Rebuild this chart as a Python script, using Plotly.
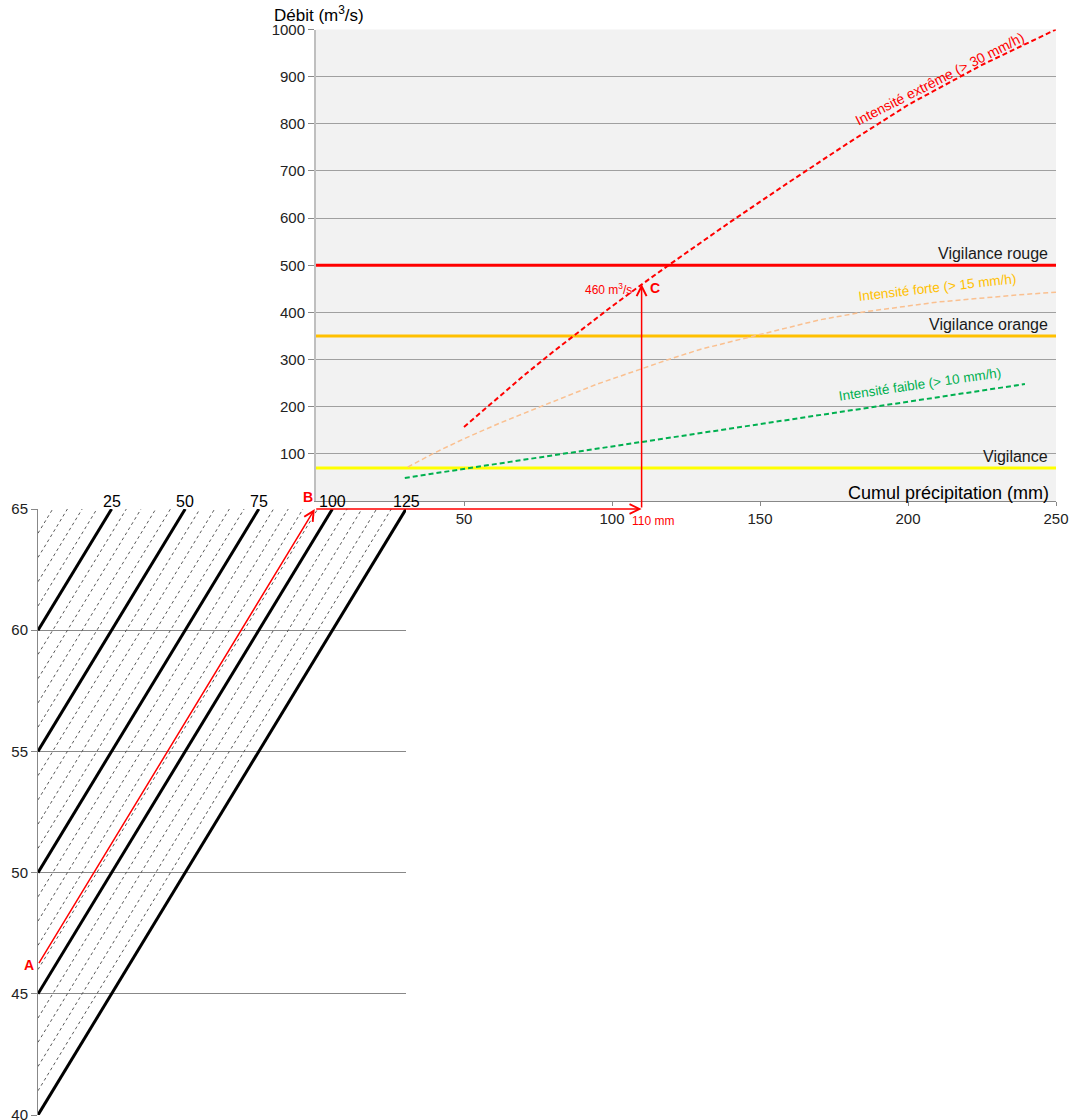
import plotly.graph_objects as go

W, H = 1075, 1120
FONT = "Liberation Sans, Arial, sans-serif"

# --- top chart: debit vs cumul precipitation ---
seuils = [500, 350, 70]
seuil_noms = ["Vigilance rouge", "Vigilance orange", "Vigilance"]
seuil_couleurs = ["#ff0000", "#ffc000", "#ffff00"]

extreme_x = [50, 60, 70, 80, 90, 100, 110, 120, 140, 160, 180, 200, 225, 250]
extreme_y = [157, 212, 265, 316, 365, 413, 459, 504, 592, 677, 760, 840, 925, 1000]
forte_x = [31, 40, 50, 62, 75, 95, 120, 130, 148, 170, 185, 210, 237, 250]
forte_y = [72, 102, 132, 165, 198, 248, 302, 322, 350, 384, 401, 422, 437, 443]
faible_x = [30, 65.5, 239.5]
faible_y = [49, 83, 248]

x_ticks_top = [50, 100, 150, 200, 250]
y_ticks_top = [100, 200, 300, 400, 500, 600, 700, 800, 900, 1000]

# --- bottom chart: nomogram ---
gras_depart = [60, 55, 50, 45, 40]
gras_arrivee = [25, 50, 75, 100, 125]
fin_depart = [64, 63, 62, 61, 59, 58, 57, 56, 54, 53, 52, 51,
              49, 48, 47, 46, 44, 43, 42, 41]
fin_arrivee = [5, 10, 15, 20, 30, 35, 40, 45, 55, 60, 65, 70,
               80, 85, 90, 95, 105, 110, 115, 120]
y_ticks_bas = [40, 45, 50, 55, 60, 65]

# example path A -> B -> C
A_y, B_x = 46.2, 94
cumul_lu, debit_lu = 110, 460

# domains (paper)
tx = [316 / W, 1056 / W]
ty = [1 - 501 / H, 1 - 29.5 / H]
bx = [38 / W, 406 / W]
by = [1 - 1115 / H, 1 - 509 / H]

fig = go.Figure()

# top chart background
fig.add_shape(type="rect", xref="x domain", yref="y domain", x0=0, x1=1, y0=0, y1=1,
              fillcolor="#f2f2f2", line=dict(width=0), layer="below")

for v, c in zip(seuils, seuil_couleurs):
    fig.add_trace(go.Scatter(x=[0, 250], y=[v, v], mode="lines",
                             line=dict(color=c, width=3), xaxis="x", yaxis="y"))

fig.add_trace(go.Scatter(x=forte_x, y=forte_y, mode="lines",
                         line=dict(color="#fac090", width=1.5, dash="5px,3px"), xaxis="x", yaxis="y"))
fig.add_trace(go.Scatter(x=faible_x, y=faible_y, mode="lines",
                         line=dict(color="#00b050", width=2, dash="5px,3px"), xaxis="x", yaxis="y"))
fig.add_trace(go.Scatter(x=extreme_x, y=extreme_y, mode="lines",
                         line=dict(color="#ff0000", width=2, dash="5px,3px"), xaxis="x", yaxis="y"))

# nomogram lines
for d, a in zip(fin_depart, fin_arrivee):
    fig.add_trace(go.Scatter(x=[0, a], y=[d, 65], mode="lines",
                             line=dict(color="#5a5a5a", width=1, dash="3px,3px"),
                             xaxis="x2", yaxis="y2"))
for d, a in zip(gras_depart, gras_arrivee):
    fig.add_trace(go.Scatter(x=[0, a], y=[d, 65], mode="lines",
                             line=dict(color="#000000", width=3), xaxis="x2", yaxis="y2"))

ann = []
for a in gras_arrivee:
    ann.append(dict(x=a, y=65, xref="x2", yref="y2", text=str(a), showarrow=False,
                    yanchor="bottom", yshift=-3, font=dict(size=16, color="#000")))

for v, n in zip(seuils, seuil_noms):
    ann.append(dict(x=248, y=v, xref="x", yref="y", text=n, showarrow=False,
                    xanchor="right", yanchor="bottom", yshift=1,
                    font=dict(size=16, color="#1a1a1a")))

ann.append(dict(x=210.5, y=896, xref="x", yref="y", text="Intensité extrême (> 30 mm/h)",
                showarrow=False, textangle=-27, font=dict(size=14, color="#ff0000")))
ann.append(dict(x=210, y=452, xref="x", yref="y", text="Intensité forte (> 15 mm/h)",
                showarrow=False, textangle=-6.5, font=dict(size=13.5, color="#ffc000")))
ann.append(dict(x=204, y=247, xref="x", yref="y", text="Intensité faible (> 10 mm/h)",
                showarrow=False, textangle=-8.3, font=dict(size=13.5, color="#00b050")))

ann.append(dict(x=1 - 24 / W, y=1 - 493 / H, xref="paper", yref="paper",
                text="Cumul précipitation (mm)", showarrow=False, xanchor="right",
                yanchor="middle", font=dict(size=18, color="#000")))
ann.append(dict(x=272 / W, y=1 - 14 / H, xref="paper", yref="paper",
                text="Débit (m<sup>3</sup>/s)", showarrow=False, xanchor="left",
                yanchor="middle", font=dict(size=17, color="#000")))

# arrows A -> B -> C
red = "#ff0000"
ann.append(dict(x=B_x, y=65, xref="x2", yref="y2", ax=0, ay=A_y, axref="x2", ayref="y2",
                text="", showarrow=True, arrowhead=5, arrowsize=1.3, arrowwidth=1.5,
                arrowcolor=red, standoff=0))
B_paper = bx[0] + B_x / 125 * (bx[1] - bx[0])
B_top = (B_paper - tx[0]) / (tx[1] - tx[0]) * 250
ann.append(dict(x=cumul_lu, y=65, xref="x", yref="y2", ax=B_top, ay=65, axref="x", ayref="y2",
                text="", showarrow=True, arrowhead=5, arrowsize=1.3, arrowwidth=1.5,
                arrowcolor=red, standoff=0))
foot = (by[1] - ty[0]) / (ty[1] - ty[0]) * 1000
ann.append(dict(x=cumul_lu, y=debit_lu, xref="x", yref="y", ax=cumul_lu, ay=foot,
                axref="x", ayref="y", text="", showarrow=True, arrowhead=5, arrowsize=1.3,
                arrowwidth=1.5, arrowcolor=red, standoff=0))

ann.append(dict(x=0, y=A_y, xref="x2", yref="y2", text="<b>A</b>", showarrow=False,
                xanchor="right", xshift=-2, font=dict(size=14, color=red)))
ann.append(dict(x=B_x, y=65, xref="x2", yref="y2", text="<b>B</b>", showarrow=False,
                xanchor="right", yanchor="bottom", xshift=0, yshift=2,
                font=dict(size=14, color=red)))
ann.append(dict(x=cumul_lu, y=debit_lu, xref="x", yref="y", text="<b>C</b>", showarrow=False,
                xanchor="left", xshift=6, yanchor="middle", yshift=-4,
                font=dict(size=14, color=red)))
ann.append(dict(x=cumul_lu, y=debit_lu, xref="x", yref="y", text="460 m<sup>3</sup>/s",
                showarrow=False, xanchor="right", xshift=-8, yanchor="middle", yshift=-5,
                font=dict(size=12, color=red)))
ann.append(dict(x=cumul_lu, y=65, xref="x", yref="y2", text="110 mm", showarrow=False,
                xanchor="left", xshift=-12, yanchor="top", yshift=-3,
                font=dict(size=12, color=red)))

fig.update_layout(
    width=W, height=H, margin=dict(l=0, r=0, t=0, b=0, autoexpand=False),
    paper_bgcolor="white", plot_bgcolor="rgba(0,0,0,0)",
    showlegend=False, hovermode=False,
    font=dict(family=FONT, size=15, color="#222"),
    annotations=ann,
    xaxis=dict(domain=tx, range=[0, 250], anchor="y", tickvals=x_ticks_top, automargin=False,
               showgrid=False, zeroline=False, showline=True, linecolor="#888", linewidth=1,
               ticks="outside", ticklen=4, tickcolor="#888", tickfont=dict(size=15),
               ticklabeloverflow="allow"),
    yaxis=dict(domain=ty, range=[0, 1000], anchor="x", tickvals=y_ticks_top, automargin=False,
               showgrid=True, gridcolor="#a0a0a0", gridwidth=1, zeroline=False,
               showline=True, linecolor="#bfbfbf", linewidth=2,
               ticks="outside", ticklen=6, tickcolor="#888", tickfont=dict(size=15),
               ticklabeloverflow="allow"),
    xaxis2=dict(domain=bx, range=[0, 125], anchor="y2", showticklabels=False, automargin=False,
                showgrid=False, zeroline=False, showline=False, ticks=""),
    yaxis2=dict(domain=by, range=[40, 65], anchor="x2", tickvals=y_ticks_bas, automargin=False,
                showgrid=True, gridcolor="#888", gridwidth=1, zeroline=False,
                showline=True, linecolor="#888", linewidth=1,
                ticks="outside", ticklen=6, tickcolor="#888", tickfont=dict(size=15),
                ticklabeloverflow="allow"),
)

fig.write_html("out.html", config={"displayModeBar": False},
               post_script="document.body.style.margin='0';")
